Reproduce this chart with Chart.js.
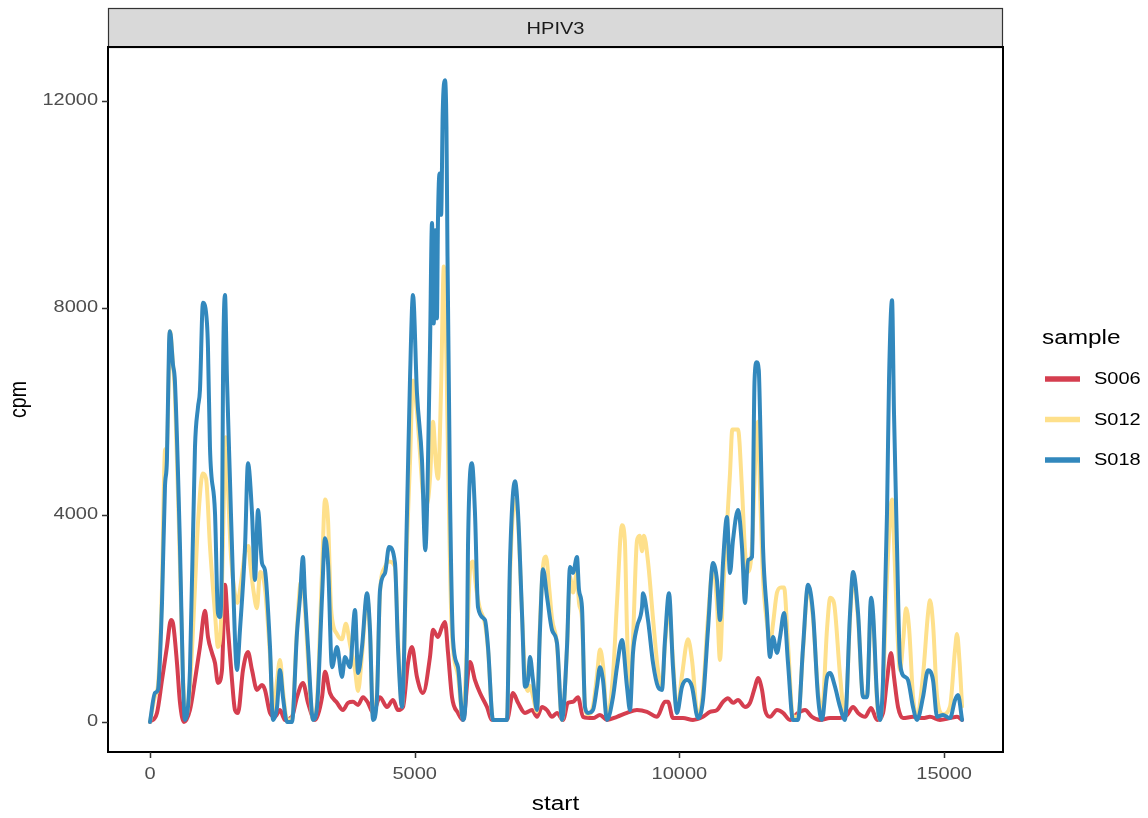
<!DOCTYPE html>
<html>
<head>
<meta charset="utf-8">
<script src="https://cdn.jsdelivr.net/npm/chart.js@4.4.1/dist/chart.umd.min.js"></script>
<style>
  html, body { margin: 0; padding: 0; background: #fff; }
  #chart { display: block; }
</style>
</head>
<body>
<canvas id="chart" width="1148" height="818"></canvas>
<script>
// ---- data ----
const facetLabel = "HPIV3";
const sampleNames = ["S006", "S012", "S018"];
const xTickValues = [0, 5000, 10000, 15000];
const yTickValues = [0, 4000, 8000, 12000];

const s006Start = [0,132,227,320,397,434,510,567,642,755,850,944,1039,1096,1171,1228,1284,1360,1417,1474,1549,1606,1662,1757,1851,1927,2021,2116,2172,2267,2361,2456,2550,2682,2777,2890,2985,3117,3250,3306,3400,3533,3646,3740,3835,3930,4024,4118,4213,4345,4477,4590,4685,4779,4874,4949,5043,5157,5289,5346,5440,5516,5573,5630,5705,5818,5913,6045,6139,6234,6366,6460,6743,6857,6952,7084,7216,7310,7405,7499,7594,7688,7802,7896,7991,8085,8179,8368,8500,8632,8821,9010,9199,9388,9577,9728,9785,9879,10068,10257,10446,10578,10710,10824,10918,11013,11107,11240,11334,11429,11485,11561,11618,11712,11844,11958,12090,12241,12373,12505,12656,12846,13035,13167,13281,13375,13507,13621,13734,13847,13922,13998,14054,14130,14224,14413,14602,14734,14923,15112,15244,15340];
const s006Cpm = [0,175,810,1450,1970,1910,1140,370,0,230,810,1450,2150,1640,1335,1140,755,1005,2650,1780,810,230,175,1005,1350,1005,620,715,620,175,100,230,40,100,480,755,370,40,480,970,560,370,230,370,390,330,480,370,175,480,290,425,230,290,1140,1450,870,560,1255,1780,1640,1835,1930,1335,480,175,40,1160,810,560,290,40,40,560,370,175,230,100,290,230,100,175,40,370,390,480,100,75,135,40,100,175,230,195,100,390,390,75,75,40,100,195,230,390,460,370,425,290,370,680,850,620,230,100,230,175,40,175,230,100,40,75,75,135,290,175,100,270,40,175,810,1335,870,290,75,100,75,100,40,75,100,40];

const s012Start = [0,94,150,227,283,320,378,435,470,567,623,680,755,850,907,1000,1060,1133,1228,1284,1340,1400,1430,1470,1530,1600,1650,1720,1800,1860,1900,1960,2020,2080,2170,2267,2330,2400,2456,2512,2590,2680,2777,2850,2890,2928,2985,3080,3155,3250,3306,3363,3420,3533,3627,3700,3778,3873,3930,4005,4100,4156,4213,4288,4345,4440,4515,4628,4685,4760,4855,4911,4968,5043,5100,5157,5232,5289,5346,5400,5440,5500,5550,5600,5640,5700,5818,5913,5988,6050,6100,6160,6230,6328,6385,6479,6743,6800,6895,6952,7027,7084,7141,7178,7235,7310,7367,7424,7480,7540,7594,7688,7783,7877,7934,7991,8066,8104,8160,8217,8274,8368,8444,8500,8557,8632,8746,8821,8916,8970,9010,9067,9124,9199,9250,9294,9330,9407,9502,9596,9671,9728,9804,9879,9955,10049,10163,10238,10351,10446,10540,10635,10710,10767,10824,10899,10956,11000,11107,11183,11240,11296,11372,11440,11485,11523,11580,11655,11712,11769,11844,11920,11977,12052,12146,12241,12336,12430,12524,12619,12694,12789,12850,12920,13035,13129,13224,13281,13375,13470,13545,13621,13659,13734,13790,13847,13922,14017,14054,14111,14168,14230,14281,14340,14413,14489,14602,14697,14734,14791,14867,14980,15112,15207,15244,15290,15340];
const s012Cpm = [0,500,700,2600,5250,5300,7550,6900,6400,3000,900,100,700,2600,3850,4800,4700,3400,2100,1450,1900,4500,5500,4600,3200,2500,2300,2700,3300,3400,3000,2500,2200,2900,2600,1300,200,800,1200,600,50,50,1800,2700,2700,2200,1200,50,400,2900,4300,3900,2200,1700,1600,1900,1500,1000,600,1300,2400,1700,100,600,2500,3000,3100,3000,1600,300,3500,5000,6600,6000,5200,4400,4200,4700,5800,5000,4700,6500,8800,7000,4500,1800,900,50,1500,3000,3100,2600,2200,1900,1400,40,40,2800,4300,3900,2100,900,600,700,500,200,1900,3000,3200,2600,2000,1500,40,1400,2800,2500,2900,2300,2000,300,150,300,900,1400,1100,100,900,2300,3800,3500,1800,500,1600,3500,3600,3300,3600,3100,2000,1000,700,1500,2200,1200,200,900,1600,1200,100,600,2000,3000,2300,1200,2500,3800,4800,5650,5650,4500,3300,2900,3400,5200,5800,4500,2800,1900,1500,1900,2500,2600,2600,1500,100,100,1400,2600,2000,600,200,1800,2400,2300,900,100,2000,2800,2000,500,500,2300,2000,400,50,700,2800,4300,3500,1900,1000,1600,2200,1800,500,100,900,2100,2350,1900,500,150,300,1400,1700,1200,300];

const s018Start = [0,94,150,227,283,320,360,378,435,470,567,623,660,755,850,907,944,1000,1076,1095,1133,1228,1284,1322,1360,1379,1417,1455,1511,1568,1643,1700,1795,1851,1927,1983,2040,2116,2172,2267,2323,2400,2456,2512,2588,2682,2777,2834,2890,2928,2985,3080,3155,3250,3306,3363,3438,3533,3627,3684,3778,3873,3930,4005,4100,4156,4213,4288,4345,4440,4515,4628,4685,4760,4855,4911,4968,5043,5138,5200,5289,5327,5360,5390,5420,5440,5470,5500,5530,5573,5600,5620,5667,5724,5818,5913,5988,6007,6082,6139,6196,6328,6385,6479,6743,6800,6895,6952,7027,7084,7141,7178,7235,7310,7367,7424,7500,7594,7688,7783,7877,7934,7991,8066,8104,8160,8217,8274,8368,8444,8500,8557,8632,8746,8821,8916,9010,9067,9124,9199,9294,9313,9407,9502,9596,9671,9728,9804,9879,9955,10049,10144,10238,10351,10446,10540,10635,10710,10767,10824,10899,10956,11013,11107,11183,11240,11296,11372,11420,11460,11500,11523,11580,11655,11712,11769,11844,11901,11977,12052,12146,12241,12336,12430,12524,12619,12694,12789,12846,12940,13035,13129,13224,13281,13375,13470,13545,13621,13659,13734,13790,13847,13922,13960,14017,14054,14111,14168,14262,14319,14413,14489,14602,14697,14791,14867,14980,15112,15207,15263,15340];
const s018Cpm = [0,560,620,2300,4540,5060,7300,7550,6900,6600,3380,810,40,1000,5310,6085,6415,8100,7710,7245,5310,4040,2105,2030,3380,6600,8250,6600,4675,2745,1005,1780,3380,5000,4040,2745,4095,3070,2935,1450,40,290,1005,480,0,0,1720,2415,3190,2415,1450,40,290,2415,3550,3070,1060,1450,870,1255,1060,2165,945,1450,2490,1780,40,480,2550,2880,3380,3070,1450,290,4040,6600,8250,6360,5060,3320,7190,9640,7700,9500,7800,9700,10600,9800,11800,12400,11500,9000,4420,1585,1060,40,1450,3380,5000,4040,2220,1970,1450,40,40,3070,4650,4040,2105,680,810,1255,810,230,1780,2950,2415,1780,1525,40,1450,2995,2880,3190,2550,2220,290,175,230,680,1060,810,40,480,1060,1585,680,230,1335,1835,2220,2490,1970,1140,680,620,1585,2490,1060,175,680,810,680,75,425,1780,3070,2745,1970,3070,3960,2880,3515,4095,3380,2300,3130,3190,6600,6950,6800,5970,3380,2105,1255,1640,1335,1640,2105,1140,40,40,1450,2650,2105,480,40,870,945,680,290,40,2105,2900,2105,480,480,2400,2105,480,40,810,4040,6600,8150,5970,3380,1140,870,810,290,40,480,1000,810,100,135,75,425,520,40];

const seriesColors = ["#D53E4F", "#FEE08B", "#3288BD"];

// ---- chart ----
const FONT = "'Liberation Sans', Arial, sans-serif";
const XSTRETCH = 1.25;

function pts(xs, ys) {
  return xs.map((x, i) => ({ x: x, y: ys[i] }));
}

function text(ctx, str, x, y, size, color, align, baseline, rotate) {
  ctx.save();
  ctx.translate(x, y);
  ctx.scale(XSTRETCH, 1);
  if (rotate) ctx.rotate(-Math.PI / 2);
  ctx.font = size + "px " + FONT;
  ctx.fillStyle = color;
  ctx.textAlign = align;
  ctx.textBaseline = baseline;
  ctx.fillText(str, 0, 0);
  ctx.restore();
}

const decor = {
  id: "decor",
  afterDraw(chart) {
    const ctx = chart.ctx;
    const a = chart.chartArea;
    const xs = chart.scales.x, ys = chart.scales.y;

    // facet strip
    ctx.save();
    ctx.fillStyle = "#D9D9D9";
    ctx.fillRect(a.left, 8, a.right - a.left, a.top - 8);
    ctx.strokeStyle = "#333333";
    ctx.lineWidth = 1.2;
    ctx.strokeRect(a.left + 0.5, 8.5, a.right - a.left - 1, a.top - 8);
    ctx.restore();
    text(ctx, facetLabel, (a.left + a.right) / 2, 34, 16, "#1A1A1A", "center", "alphabetic");

    // panel frame
    ctx.save();
    ctx.strokeStyle = "#000";
    ctx.lineWidth = 2;
    ctx.strokeRect(a.left, a.top, a.right - a.left, a.bottom - a.top);

    // tick marks
    ctx.strokeStyle = "#333333";
    ctx.lineWidth = 1.5;
    ctx.beginPath();
    ys.ticks.forEach(t => {
      const py = Math.round(ys.getPixelForValue(t.value)) + 0.5;
      ctx.moveTo(a.left - 6, py); ctx.lineTo(a.left, py);
    });
    xs.ticks.forEach(t => {
      const px = Math.round(xs.getPixelForValue(t.value)) + 0.5;
      ctx.moveTo(px, a.bottom); ctx.lineTo(px, a.bottom + 6);
    });
    ctx.stroke();
    ctx.restore();

    // tick labels
    ys.ticks.forEach(t => {
      text(ctx, String(t.value), a.left - 10, ys.getPixelForValue(t.value), 16, "#4D4D4D", "right", "middle");
    });
    xs.ticks.forEach(t => {
      text(ctx, String(t.value), xs.getPixelForValue(t.value), 779, 16, "#4D4D4D", "center", "alphabetic");
    });

    // axis titles
    text(ctx, "start", (a.left + a.right) / 2, 810, 19.5, "#000", "center", "alphabetic");
    text(ctx, "cpm", 26, (a.top + a.bottom) / 2, 19.5, "#000", "center", "alphabetic", true);

    // legend
    text(ctx, "sample", 1042, 344, 19.5, "#000", "left", "alphabetic");
    const keyY = [379, 419.5, 460];
    sampleNames.forEach((name, i) => {
      ctx.save();
      ctx.strokeStyle = seriesColors[i];
      ctx.lineWidth = 5.5;
      ctx.beginPath();
      ctx.moveTo(1045, keyY[i]); ctx.lineTo(1080, keyY[i]);
      ctx.stroke();
      ctx.restore();
      text(ctx, name, 1094, keyY[i] + 1, 16, "#000", "left", "middle");
    });
  }
};

const datasets = [
  { label: sampleNames[0], data: pts(s006Start, s006Cpm), borderColor: seriesColors[0], order: 3 },
  { label: sampleNames[1], data: pts(s012Start, s012Cpm), borderColor: seriesColors[1], order: 2 },
  { label: sampleNames[2], data: pts(s018Start, s018Cpm), borderColor: seriesColors[2], order: 1 }
].map(d => Object.assign(d, {
  borderWidth: 4,
  pointRadius: 0,
  fill: false,
  cubicInterpolationMode: "monotone",
  borderJoinStyle: "round",
  borderCapStyle: "round"
}));

new Chart(document.getElementById("chart").getContext("2d"), {
  type: "line",
  data: { datasets: datasets },
  plugins: [decor],
  options: {
    responsive: false,
    animation: false,
    devicePixelRatio: 1,
    layout: { padding: { top: 47, right: 145, left: 0, bottom: 0 } },
    plugins: { legend: { display: false }, tooltip: { enabled: false } },
    scales: {
      x: {
        type: "linear",
        min: -793, max: 16113,
        grid: { display: false },
        border: { display: false },
        ticks: { display: false },
        afterBuildTicks: s => { s.ticks = xTickValues.map(v => ({ value: v })); },
        afterFit: s => { s.height = 66; }
      },
      y: {
        type: "linear",
        min: -580, max: 13043,
        grid: { display: false },
        border: { display: false },
        ticks: { display: false },
        afterBuildTicks: s => { s.ticks = yTickValues.map(v => ({ value: v })); },
        afterFit: s => { s.width = 108; }
      }
    }
  }
});
</script>
</body>
</html>
